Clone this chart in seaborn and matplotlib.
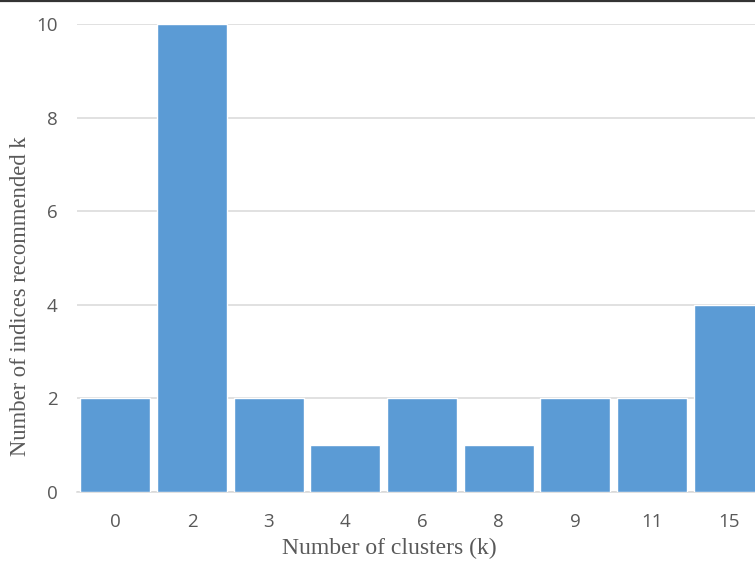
import matplotlib
matplotlib.use("Agg")
import matplotlib.pyplot as plt
import matplotlib.lines as mlines
import seaborn as sns
import pandas as pd

clusters = ["0", "2", "3", "4", "6", "8", "9", "11", "15"]
counts = [2, 10, 2, 1, 2, 1, 2, 2, 4]
y_ticks = [0, 2, 4, 6, 8, 10]

df = pd.DataFrame({"k": clusters, "n": counts})

sns.set_style("white")
fig = plt.figure(figsize=(7.55, 5.61), dpi=100)
ax = fig.add_axes([77 / 755, 69 / 561, 690 / 755, 468 / 561])

sns.barplot(data=df, x="k", y="n", order=clusters, color="#5b9bd5",
            saturation=1, width=0.91, ax=ax, zorder=3)

ax.set_ylim(0, 10)
ax.set_yticks(y_ticks)
ax.set_xlim(-0.5, len(clusters) - 0.5)
ax.yaxis.grid(True, color="#d9d9d9", linewidth=1.1, zorder=0)
ax.set_axisbelow(True)
for side in ["top", "right", "left"]:
    ax.spines[side].set_visible(False)
ax.spines["bottom"].set_color("#d9d9d9")
ax.spines["bottom"].set_linewidth(1.1)
ax.tick_params(axis="both", length=0, labelsize=13.5, colors="#595959")
ax.tick_params(axis="x", pad=15)
ax.tick_params(axis="y", pad=14)
for lbl in ax.get_xticklabels() + ax.get_yticklabels():
    lbl.set_fontfamily("Open Sans")

ax.set_xlabel("Number of clusters (k)", family="Liberation Serif",
              fontsize=17, color="#595959")
ax.set_ylabel("Number of indices recommended k", family="Liberation Serif",
              fontsize=16.3, color="#595959")
ax.xaxis.set_label_coords(0.452, -0.098)
ax.yaxis.set_label_coords(-0.067, 0.419)

# thin rule along the top edge of the figure
fig.add_artist(mlines.Line2D([0, 1], [0.998, 0.998], transform=fig.transFigure,
                             color="#333333", linewidth=1.6))

fig.savefig("out.png", dpi=100)
